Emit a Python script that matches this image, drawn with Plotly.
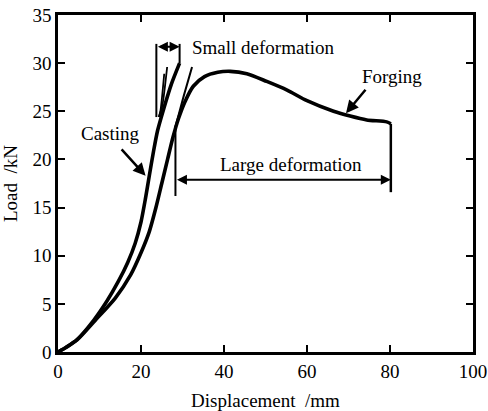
import plotly.graph_objects as go

# ---- data ----
casting_x = [0, 2.0, 4.6, 8.6, 11.8, 14.5, 16.8, 18.6, 20.0, 21.1, 22.0, 23.0, 24.0, 25.5, 27.3, 29.3]
casting_y = [0, 0.5, 1.3, 3.3, 5.3, 7.3, 9.3, 11.3, 13.5, 16.0, 18.3, 20.8, 23.0, 25.3, 27.8, 30.0]

forging_x = [0, 2.0, 4.6, 9.0, 13.8, 17.5, 20.0, 22.0, 23.6, 25.0, 26.4, 27.7, 29.0, 30.6, 32.6,
             35.3, 38.5, 41.5, 45.5, 50.3, 55.2, 60.0, 66.4, 70.4, 74.4, 79.2, 80.2]
forging_y = [0, 0.5, 1.25, 3.3, 5.6, 8.0, 10.3, 12.5, 15.0, 17.5, 20.0, 22.3, 24.2, 26.0, 27.6,
             28.6, 29.05, 29.15, 28.9, 28.1, 27.2, 26.1, 25.0, 24.5, 24.1, 23.9, 23.7]

forging_drop_x = [80.2, 80.2]
forging_drop_y = [23.7, 16.6]

spur1_x = [24.3, 25.1, 26.3]
spur1_y = [24.4, 25.5, 29.6]
spur2_x = [24.3, 24.7, 25.6]
spur2_y = [24.4, 25.1, 28.9]
spur3_x = [28.3, 30.3, 32.3]
spur3_y = [23.4, 26.6, 29.6]

small_left_x = [23.7, 23.7]
small_left_y = [32.0, 24.4]
small_right_x = [29.3, 29.3]
small_right_y = [32.0, 30.0]
large_left_x = [28.3, 28.3]
large_left_y = [23.5, 16.2]

small_arrow = dict(x0=23.7, x1=29.3, y=31.7)
large_arrow = dict(x0=28.3, x1=80.2, y=17.9)

x_ticks = [0, 20, 40, 60, 80, 100]
y_ticks = [0, 5, 10, 15, 20, 25, 30, 35]

FONT = "Liberation Serif"
FS = 19

fig = go.Figure()

def add_line(x, y, w, shape="linear"):
    fig.add_trace(go.Scatter(x=x, y=y, mode="lines",
                             line=dict(color="black", width=w, shape=shape, smoothing=0.7),
                             showlegend=False, hoverinfo="skip"))

add_line(casting_x, casting_y, 3.6, "spline")
add_line(forging_x, forging_y, 3.6, "spline")
add_line(forging_drop_x, forging_drop_y, 2.5)
add_line(spur1_x, spur1_y, 1.8, "spline")
add_line(spur2_x, spur2_y, 1.8, "spline")
add_line(spur3_x, spur3_y, 2.0, "spline")
add_line(small_left_x, small_left_y, 2.0)
add_line(small_right_x, small_right_y, 2.0)
add_line(large_left_x, large_left_y, 2.0)

# double-headed arrows
for a in (small_arrow, large_arrow):
    fig.add_annotation(x=a["x1"], y=a["y"], ax=a["x0"], ay=a["y"],
                       xref="x", yref="y", axref="x", ayref="y",
                       text="", showarrow=True, arrowhead=2, startarrowhead=2,
                       arrowside="end+start", arrowsize=1.0, startarrowsize=1.0,
                       arrowwidth=2, arrowcolor="black")

# pointer arrows
fig.add_annotation(x=21.1, y=18.3, ax=15.0, ay=21.2, xref="x", yref="y",
                   axref="x", ayref="y", text="", showarrow=True, arrowhead=2,
                   arrowsize=1.0, arrowwidth=2.5, arrowcolor="black")
fig.add_annotation(x=69.4, y=24.8, ax=74.4, ay=27.4, xref="x", yref="y",
                   axref="x", ayref="y", text="", showarrow=True, arrowhead=2,
                   arrowsize=1.0, arrowwidth=2.5, arrowcolor="black")

txt_font = dict(family=FONT, size=FS, color="black")
fig.add_annotation(x=31.9, y=31.6, text="Small deformation", showarrow=False,
                   xanchor="left", yanchor="middle", font=txt_font)
fig.add_annotation(x=12.6, y=22.7, text="Casting", showarrow=False,
                   xanchor="center", yanchor="middle", font=txt_font)
fig.add_annotation(x=80.4, y=28.6, text="Forging", showarrow=False,
                   xanchor="center", yanchor="middle", font=txt_font)
fig.add_annotation(x=56.1, y=19.5, text="Large deformation", showarrow=False,
                   xanchor="center", yanchor="middle", font=txt_font)

axis_common = dict(showgrid=False, zeroline=False, showline=True, linecolor="black",
                   linewidth=2.5, mirror="ticks", ticks="inside", ticklen=7,
                   tickwidth=2, tickcolor="black", automargin=False,
                   tickfont=dict(family=FONT, size=FS, color="black"))

fig.update_xaxes(range=[0, 100], tickvals=x_ticks, ticktext=[str(v) for v in x_ticks],
                 title=dict(text="Displacement  /mm", font=dict(family=FONT, size=FS, color="black")),
                 **axis_common)
fig.update_yaxes(range=[0, 35], tickvals=y_ticks, ticktext=[str(v) for v in y_ticks],
                 title=dict(text="Load  /kN", font=dict(family=FONT, size=FS, color="black")),
                 **axis_common)

fig.update_layout(width=488, height=411,
                  margin=dict(l=58, r=15, t=15, b=59),
                  paper_bgcolor="white", plot_bgcolor="white")

fig.write_html("out.html")
